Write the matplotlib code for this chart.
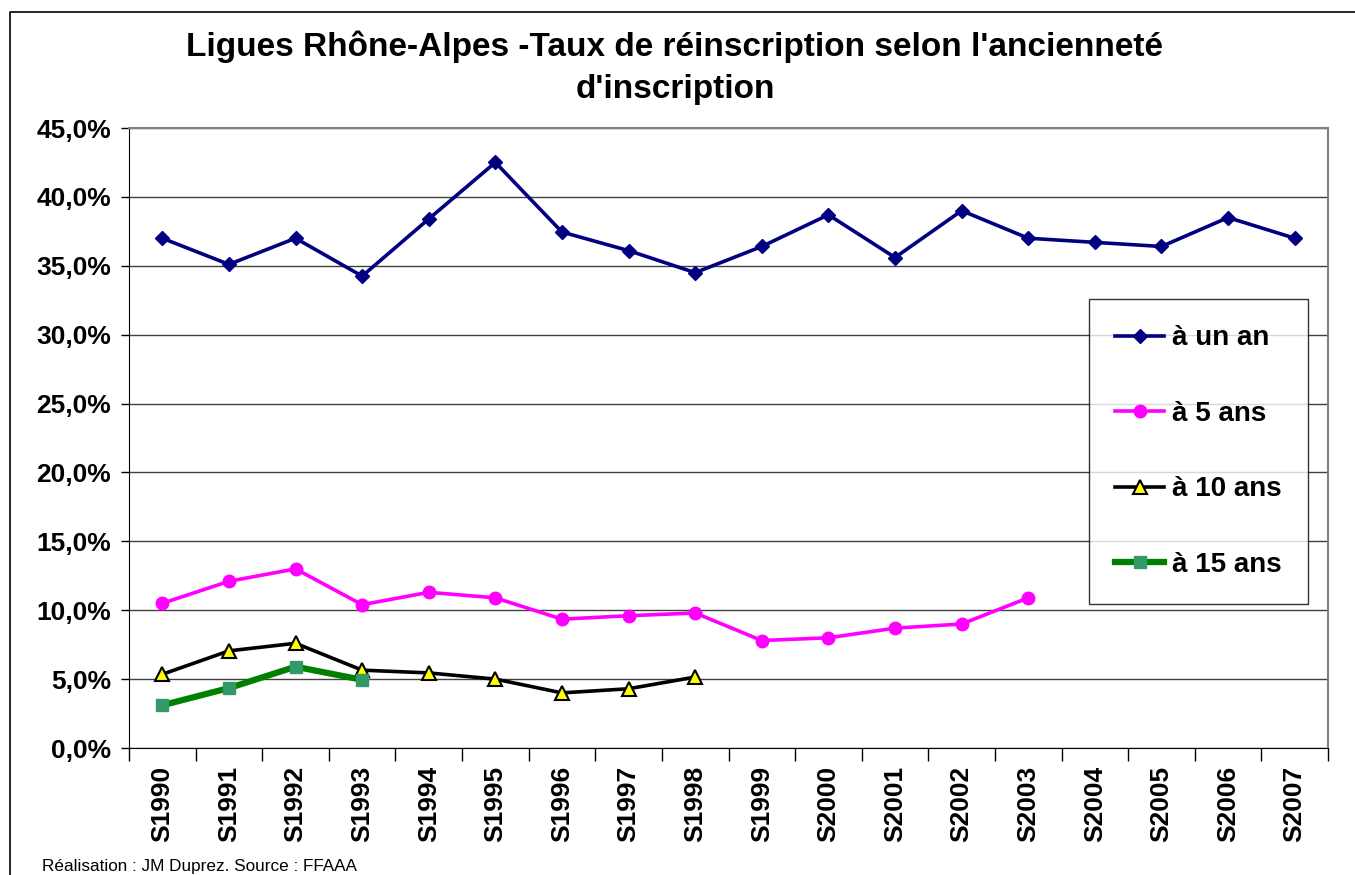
import matplotlib.pyplot as plt
from matplotlib.lines import Line2D
from matplotlib.ticker import FixedLocator, FuncFormatter
import numpy as np

plt.rcParams["font.family"] = ["Liberation Sans", "DejaVu Sans"]

seasons = ["S1990", "S1991", "S1992", "S1993", "S1994", "S1995", "S1996", "S1997", "S1998",
           "S1999", "S2000", "S2001", "S2002", "S2003", "S2004", "S2005", "S2006", "S2007"]

un_an = [37.0, 35.1, 37.0, 34.25, 38.4, 42.5, 37.45, 36.1, 34.5,
         36.4, 38.7, 35.6, 39.0, 37.0, 36.7, 36.4, 38.5, 37.0]
cinq_ans = [10.5, 12.1, 13.0, 10.4, 11.3, 10.9, 9.35, 9.6, 9.8, 7.8, 8.0, 8.7, 9.0, 10.9]
dix_ans = [5.35, 7.05, 7.6, 5.65, 5.45, 5.0, 4.0, 4.3, 5.15]
quinze_ans = [3.1, 4.35, 5.9, 4.95]

fig = plt.figure(figsize=(13.55, 8.75), dpi=100)
ax = fig.add_axes([129 / 1355, 1 - 748 / 875, (1328 - 129) / 1355, (748 - 128) / 875])

# outer chart frame: only the left and top edges fall inside the picture
fig.add_artist(Line2D([10 / 1355, 10 / 1355, 1.0], [0.0, 1 - 12 / 875, 1 - 12 / 875],
                      transform=fig.transFigure, color="black", linewidth=1.2))

x = np.arange(len(seasons))
ax.plot(x[:len(un_an)], un_an, color="#000080", linewidth=2.6, marker="D", markersize=7.5,
        markerfacecolor="#000080", markeredgecolor="#000080", label="à un an")
ax.plot(x[:len(cinq_ans)], cinq_ans, color="#FF00FF", linewidth=2.6, marker="o", markersize=9,
        markerfacecolor="#FF00FF", markeredgecolor="#FF00FF", label="à 5 ans")
ax.plot(x[:len(dix_ans)], dix_ans, color="black", linewidth=2.6, marker="^", markersize=10,
        markerfacecolor="#FFFF00", markeredgecolor="black", markeredgewidth=1.5, label="à 10 ans")
ax.plot(x[:len(quinze_ans)], quinze_ans, color="#008000", linewidth=4.5, marker="s", markersize=9,
        markerfacecolor="#339966", markeredgecolor="#339966", label="à 15 ans")

ax.set_xlim(-0.5, len(seasons) - 0.5)
ax.set_ylim(0, 45)
ax.set_yticks(np.arange(0, 46, 5))
ax.yaxis.set_major_formatter(FuncFormatter(lambda v, p: f"{v:.1f}%".replace(".", ",")))
ax.grid(axis="y", color="#404040", linewidth=1.0)
ax.set_axisbelow(True)

ax.set_xticks(x)
ax.set_xticklabels(seasons, rotation=90, fontsize=19, fontweight="bold")
ax.tick_params(axis="x", which="major", length=0, pad=13)
ax.xaxis.set_minor_locator(FixedLocator(np.arange(-0.5, len(seasons), 1)))
ax.tick_params(axis="x", which="minor", length=9, width=1, direction="out")
ax.tick_params(axis="y", length=6, width=1, direction="out", labelsize=19, pad=7)
for lab in ax.get_yticklabels():
    lab.set_fontweight("bold")

for side in ["top", "right"]:
    ax.spines[side].set_color("#808080")
    ax.spines[side].set_linewidth(1.5)
ax.spines["left"].set_color("black")
ax.spines["bottom"].set_color("black")

fig.text(675 / 1355, 1 - 68 / 875, "Ligues Rhône-Alpes -Taux de réinscription selon l'ancienneté\nd'inscription",
         ha="center", va="center", fontsize=24, fontweight="bold", linespacing=1.47)
fig.text(42 / 1355, 1 - 866 / 875, "Réalisation : JM Duprez. Source : FFAAA", fontsize=12.3, va="center")

leg = ax.legend(loc="upper left", bbox_to_anchor=((1089 - 129) / 1199, (748 - 299) / 620),
                frameon=True, fancybox=False, edgecolor="black",
                prop={"weight": "bold", "size": 20}, labelspacing=1.78, handlelength=1.75,
                borderpad=0.95, handletextpad=0.28, borderaxespad=0)
leg.get_frame().set_linewidth(1.0)

fig.savefig("out.png", dpi=100)
